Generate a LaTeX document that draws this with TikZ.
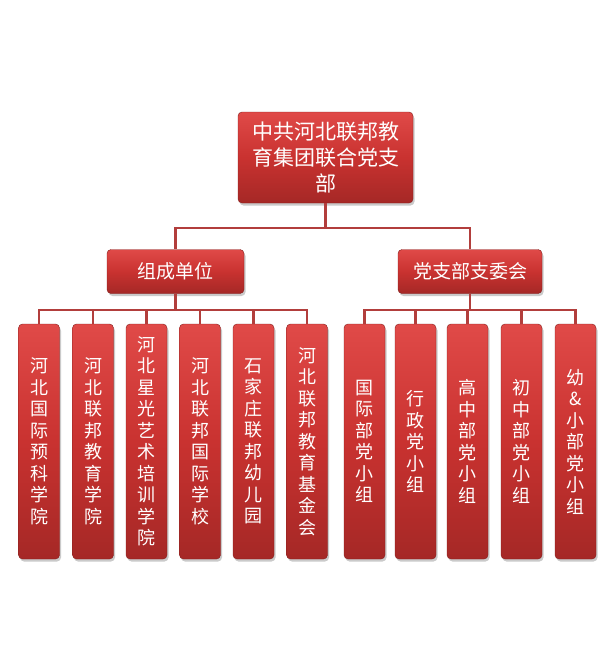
\documentclass[tikz,border=0pt]{standalone}
\usepackage{fontspec}
\newfontfamily\cjk{Noto Sans CJK SC}
\usetikzlibrary{shadows}
\definecolor{boxtop}{HTML}{E04A48}
\definecolor{boxmid}{HTML}{C93230}
\definecolor{boxbot}{HTML}{A52826}
\definecolor{linec}{HTML}{B23E3C}
\tikzset{
  redbox/.style={rectangle, rounded corners=4pt, top color=boxtop, bottom color=boxbot, middle color=boxmid,
    draw=boxbot!80!black, line width=0.4pt, text=white, inner sep=0pt, align=center,
    drop shadow={shadow xshift=1.5pt, shadow yshift=-2.5pt, opacity=0.35, fill=black!60}},
  topbox/.style={redbox, minimum width=175pt, minimum height=91pt, font=\cjk\fontsize{21}{26}\selectfont},
  midbox/.style={redbox, minimum height=44pt, font=\cjk\fontsize{19}{23}\selectfont},
  leafbox/.style={redbox, minimum width=41pt, minimum height=235pt, font=\cjk\fontsize{18}{21.5}\selectfont},
  conn/.style={draw=linec, line width=2.4pt}
}
\begin{document}
\begin{tikzpicture}[x=1pt,y=-1pt]
\useasboundingbox (0,0) rectangle (614,672);
\node[topbox] (top) at (325.5,157.5) {中共河北联邦教\\育集团联合党支\\部};
\node[midbox, minimum width=137pt] (lmid) at (175.5,271.5) {组成单位};
\node[midbox, minimum width=144pt] (rmid) at (470,271.5) {党支部支委会};

\node[leafbox] (l1) at (39,441.5) {河\\北\\国\\际\\预\\科\\学\\院};
\node[leafbox] (l2) at (93,441.5) {河\\北\\联\\邦\\教\\育\\学\\院};
\node[leafbox] (l3) at (146.5,441.5) {河\\北\\星\\光\\艺\\术\\培\\训\\学\\院};
\node[leafbox] (l4) at (200,441.5) {河\\北\\联\\邦\\国\\际\\学\\校};
\node[leafbox] (l5) at (253.5,441.5) {石\\家\\庄\\联\\邦\\幼\\儿\\园};
\node[leafbox] (l6) at (307,441.5) {河\\北\\联\\邦\\教\\育\\基\\金\\会};

\node[leafbox] (r1) at (364.5,441.5) {国\\际\\部\\党\\小\\组};
\node[leafbox] (r2) at (415.5,441.5) {行\\政\\党\\小\\组};
\node[leafbox] (r3) at (467.5,441.5) {高\\中\\部\\党\\小\\组};
\node[leafbox] (r4) at (521.5,441.5) {初\\中\\部\\党\\小\\组};
\node[leafbox] (r5) at (575.5,441.5) {幼\\\&\\小\\部\\党\\小\\组};

\draw[conn] (top.south) -- ++(0,25) coordinate (tb) -| (lmid.north);
\draw[conn] (tb) -| (rmid.north);
\foreach \n in {l1,l2,l3,l4,l5,l6}{
  \draw[conn] (lmid.south) -- ++(0,16) -| (\n.north);
}
\foreach \n in {r1,r2,r3,r4,r5}{
  \draw[conn] (rmid.south) -- ++(0,16) -| (\n.north);
}
\end{tikzpicture}
\end{document}
